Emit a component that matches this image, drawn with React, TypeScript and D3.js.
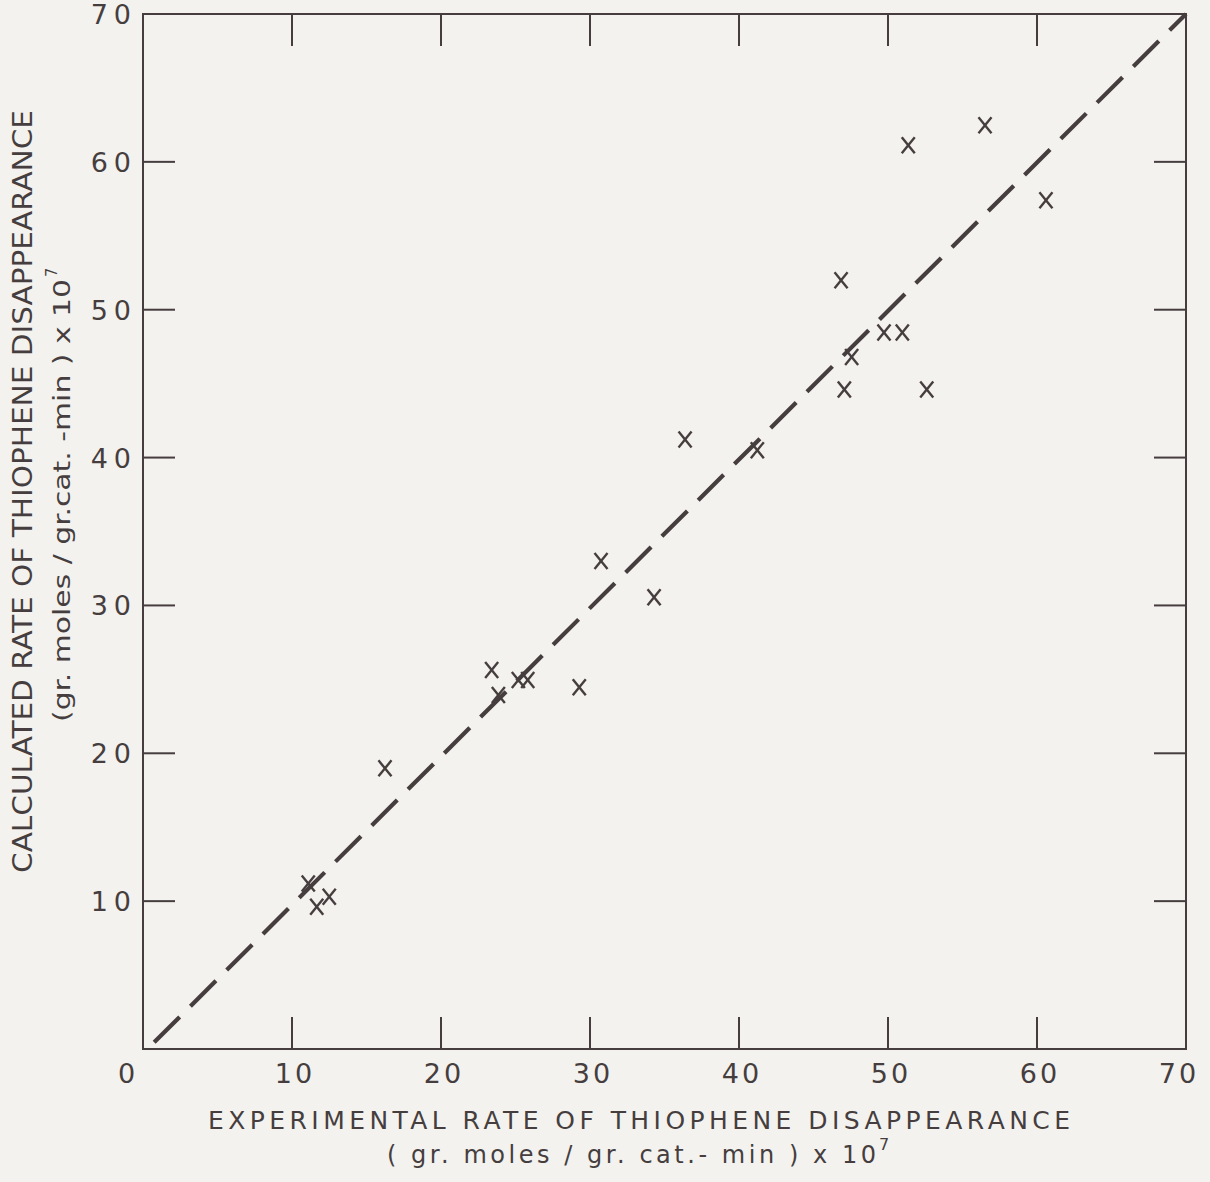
import React, { useEffect } from "react";
import * as d3 from "d3";

const expRate = [11.09, 11.66, 12.5, 16.24, 23.4, 23.85, 25.19, 25.82, 29.28, 30.74, 34.3, 36.38, 41.23, 46.85, 47.07, 47.56, 49.73, 50.96, 51.36, 52.6, 56.51, 60.6];
const calcRate = [11.2, 9.62, 10.3, 18.98, 25.63, 23.94, 24.95, 24.95, 24.46, 33.0, 30.56, 41.22, 40.5, 52.0, 44.6, 46.8, 48.46, 48.46, 61.12, 44.6, 62.48, 57.4];
const parityX = [0.75, 70];
const parityY = [0.45, 70];
const xTicks = [0, 10, 20, 30, 40, 50, 60, 70];
const yTicks = [10, 20, 30, 40, 50, 60, 70];
const xTitle = "EXPERIMENTAL RATE OF THIOPHENE DISAPPEARANCE";
const xSub = "( gr. moles / gr. cat.- min ) x 10";
const yTitle = "CALCULATED RATE OF THIOPHENE DISAPPEARANCE";
const ySub = "(gr. moles / gr.cat. -min ) x 10";
const expo = "7";

const W = 1210, H = 1182;
const L = 143, R = 1186, T = 14, B = 1049;
const INK = "#463e3e";
const BG = "#f3f2ef";

export default function App() {
  useEffect(() => {
    document.body.style.margin = "0";
    document.body.style.background = BG;
  }, []);
  const x = d3.scaleLinear().domain([0, 70]).range([L, R]);
  const y = d3.scaleLinear().domain([0, 70]).range([B, T]);
  const pts = expRate.map((v, i) => [x(v), y(calcRate[i])]);
  const line = d3.line<number>().x((d, i) => x(parityX[i])).y((d, i) => y(parityY[i]));
  const tick = 32;
  const numFont = "'DejaVu Sans', sans-serif";
  const condFont = "'DejaVu Sans Condensed', 'Liberation Sans Narrow', 'DejaVu Sans', sans-serif";
  return (
    <svg width={W} height={H} style={{ display: "block", background: BG }}>
      <rect x={0} y={0} width={W} height={H} fill={BG} />
      <rect x={L} y={T} width={R - L} height={B - T} fill="none" stroke={INK} strokeWidth={2} />
      {xTicks.filter((t) => t > 0 && t < 70).map((t) => (
        <g key={"xt" + t} stroke={INK} strokeWidth={2}>
          <line x1={x(t)} x2={x(t)} y1={B} y2={B - tick} />
          <line x1={x(t)} x2={x(t)} y1={T} y2={T + tick} />
        </g>
      ))}
      {yTicks.filter((t) => t < 70).map((t) => (
        <g key={"yt" + t} stroke={INK} strokeWidth={2}>
          <line x1={L} x2={L + tick} y1={y(t)} y2={y(t)} />
          <line x1={R} x2={R - tick} y1={y(t)} y2={y(t)} />
        </g>
      ))}
      {xTicks.map((t) => (
        <text key={"xl" + t} x={x(t) + (t === 0 ? -15 : t === 70 ? -7 : 3)} y={1083} textAnchor="middle"
          fontFamily={numFont} fontSize={27} letterSpacing={3} fill={INK}>{t}</text>
      ))}
      {yTicks.map((t) => (
        <text key={"yl" + t} x={137} y={y(t) + 10} textAnchor="end"
          fontFamily={numFont} fontSize={27} letterSpacing={6} fill={INK}>{t}</text>
      ))}
      <path d={line(parityX) || ""} fill="none" stroke={INK} strokeWidth={4.2} strokeDasharray="36 15.2" />
      {pts.map(([px, py], i) => (
        <g key={"p" + i} stroke={INK} strokeWidth={2.4}>
          <line x1={px - 6.5} y1={py - 8} x2={px + 6.5} y2={py + 8} />
          <line x1={px - 6.5} y1={py + 8} x2={px + 6.5} y2={py - 8} />
        </g>
      ))}
      <text x={208} y={1129} fontFamily={numFont} fontSize={25} textLength={862} lengthAdjust="spacing" fill={INK}>{xTitle}</text>
      <text x={387} y={1163} fontFamily={numFont} fontSize={24} textLength={489} lengthAdjust="spacing" fill={INK}>{xSub}</text>
      <text x={879} y={1150} fontFamily={numFont} fontSize={16} fill={INK}>{expo}</text>
      <text transform="translate(32,873) rotate(-90)" fontFamily={condFont} fontSize={27} textLength={763} lengthAdjust="spacingAndGlyphs" fill={INK}>{yTitle}</text>
      <text transform="translate(70,722) rotate(-90)" fontFamily={condFont} fontSize={23} textLength={443} lengthAdjust="spacingAndGlyphs" fill={INK}>{ySub}</text>
      <text transform="translate(57,277) rotate(-90)" fontFamily={condFont} fontSize={16} fill={INK}>{expo}</text>
    </svg>
  );
}
